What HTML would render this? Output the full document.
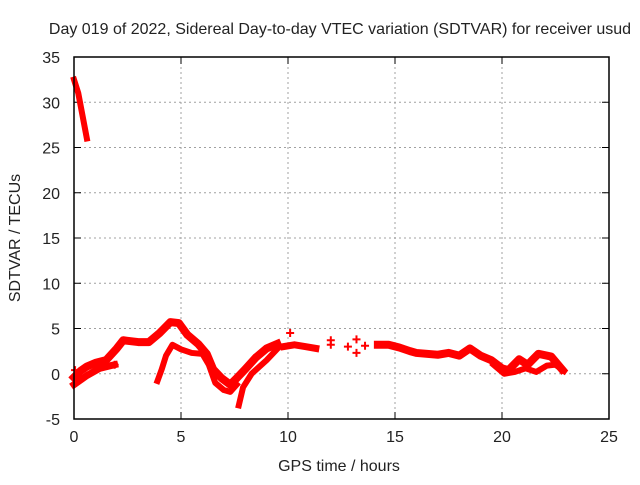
<!DOCTYPE html>
<html><head><meta charset="utf-8"><style>
body{margin:0;background:#fff}
svg text{font-family:"Liberation Sans",sans-serif;font-size:16px;fill:#222}
</style></head><body>
<svg width="640" height="480" id="c">
<text x="340" y="34" text-anchor="middle">Day 019 of 2022, Sidereal Day-to-day VTEC variation (SDTVAR) for receiver usud</text>
<text x="339" y="471" text-anchor="middle">GPS time / hours</text>
<text transform="translate(20,238) rotate(-90)" text-anchor="middle">SDTVAR / TECUs</text>
<g id="grid"></g>
<g id="data"></g>
<rect x="74" y="57" width="535" height="362" fill="none" stroke="#000" stroke-width="1.5"/>
</svg>
<script>
const xTicks=[0,5,10,15,20,25];
const yTicks=[-5,0,5,10,15,20,25,30,35];
const segSteep=[[0,32.5],[0.2,31],[0.4,28.5],[0.6,26]];
const segUpper=[[0,-0.4],[0.3,0.3],[0.6,0.8],[1,1.2],[1.5,1.5],[2,2.8],[2.3,3.7],[3,3.5],[3.5,3.5],[4,4.5],[4.5,5.7],[4.9,5.6],[5.3,4.3],[5.8,3.3],[6.2,2.2],[6.5,0.5],[6.9,-0.5],[7.3,-1.2],[7.6,-0.5],[8,0.5],[8.5,1.8],[9,2.8],[9.5,3.3]];
const segLowStart=[[0,-1.2],[0.6,-0.2],[1.2,0.6],[1.9,1.0]];
const segLoop=[[3.9,-0.8],[4.1,0.5],[4.3,2],[4.6,3.2],[5,2.7],[5.5,2.3],[6,2.2],[6.3,1],[6.6,-1],[7,-1.8],[7.3,-2],[7.6,-1.2]];
const segRise=[[7.7,-3.5],[7.9,-1.5],[8.3,0],[9,1.5],[9.6,3]];
const segMid=[[9.8,3],[10.3,3.2],[10.8,3],[11.3,2.8]];
const segLate=[[14.2,3.2],[14.7,3.2],[15.2,2.9],[15.7,2.5],[16,2.3],[17,2.1],[17.5,2.3],[18,2],[18.5,2.8],[19,2],[19.5,1.5],[20,0.6],[20.3,0.4],[20.8,1.6],[21.2,1.0],[21.7,2.2],[22.3,1.9],[22.8,0.5]];
const segLateLow=[[19.6,1.0],[20.1,0.0],[20.6,0.2],[21.1,0.6],[21.6,0.2],[22.1,0.9],[22.5,1.0],[22.9,0.3]];
const crossX=[10.1,12,12,12.8,13.2,13.2,13.6,0.05,1.9];
const crossY=[4.5,3.7,3.2,3.0,3.8,2.3,3.1,0.4,1.0];
const X=v=>74+v*535/25, Y=v=>419-(v+5)*362/40;
const ns="http://www.w3.org/2000/svg";
const g=document.getElementById('grid'), d=document.getElementById('data');
function mk(tag,at,parent){const e=document.createElementNS(ns,tag);for(const k in at)e.setAttribute(k,at[k]);parent.appendChild(e);return e;}
xTicks.forEach(t=>{
 const l=mk('line',{x1:X(t),x2:X(t),y1:57,y2:419,stroke:'#a0a0a0','stroke-dasharray':'2,3'},g);
 
 
 const tk=mk('path',{d:`M${X(t)},419v-7M${X(t)},57v7`,stroke:'#000'},g);
 
 
 const s=mk('text',{x:X(t),y:442,'text-anchor':'middle'},g);s.textContent=t;
 
 
});
yTicks.forEach(t=>{
 const l=mk('line',{x1:74,x2:609,y1:Y(t),y2:Y(t),stroke:'#a0a0a0','stroke-dasharray':'2,3'},g);
 
 
 const tk=mk('path',{d:`M74,${Y(t)}h7M609,${Y(t)}h-7`,stroke:'#000'},g);
 
 
 const s=mk('text',{x:60,y:Y(t)+6,'text-anchor':'end'},g);s.textContent=t;
 
 
});
[[segSteep,6],[segUpper,8],[segLowStart,7],[segLoop,6],[segRise,6],[segMid,7],[segLate,8],[segLateLow,6]].forEach(([s,w])=>{
 const p=mk('polyline',{points:s.map(q=>X(q[0])+','+Y(q[1])).join(' '),fill:'none',stroke:'#f00','stroke-width':w,'stroke-linejoin':'round','stroke-linecap':'square'},d);
 
 
});
crossX.forEach((cx,i)=>{
 const x=X(cx),y=Y(crossY[i]);
 const p=mk('path',{d:`M${x-4},${y}H${x+4}M${x},${y-4}V${y+4}`,stroke:'#f00','stroke-width':2},d);
 
 
});
</script>
</body></html>
